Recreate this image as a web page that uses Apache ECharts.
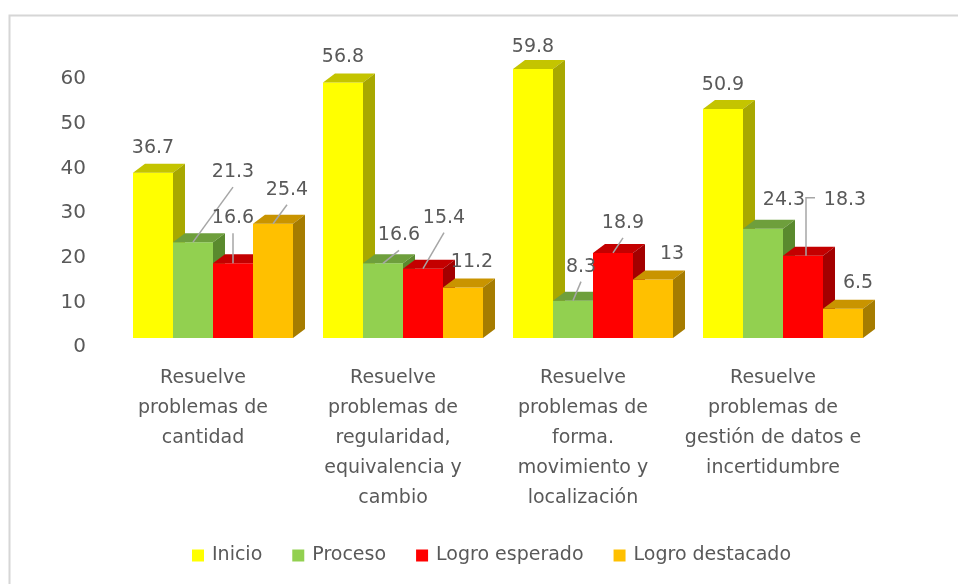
<!DOCTYPE html>
<html>
<head>
<meta charset="utf-8">
<script src="https://cdn.jsdelivr.net/npm/echarts@6/dist/echarts.min.js"></script>
<style>
  html, body { margin: 0; padding: 0; background: #fff; }
  #chart { width: 958px; height: 584px; }
</style>
</head>
<body>
<div id="chart"></div>
<script>
// datos
var categories = [
  'Resuelve\nproblemas de\ncantidad',
  'Resuelve\nproblemas de\nregularidad,\nequivalencia y\ncambio',
  'Resuelve\nproblemas de\nforma.\nmovimiento y\nlocalización',
  'Resuelve\nproblemas de\ngestión de datos e\nincertidumbre'
];
var seriesNames = ['Inicio', 'Proceso', 'Logro esperado', 'Logro destacado'];
var inicio = [36.7, 56.8, 59.8, 50.9];
var proceso = [21.3, 16.6, 8.3, 24.3];
var logroEsperado = [16.6, 15.4, 18.9, 18.3];
var logroDestacado = [25.4, 11.2, 13, 6.5];
var valueSeries = [inicio, proceso, logroEsperado, logroDestacado];

// colores de cada cara (frente, arriba, lado)
var faces = [
  { front: '#ffff00', top: '#c4c400', side: '#a8a800' },
  { front: '#92d050', top: '#6e9f3c', side: '#5a8a2e' },
  { front: '#ff0000', top: '#c40000', side: '#a30000' },
  { front: '#ffc000', top: '#c99400', side: '#a67c00' }
];

// posicion de las etiquetas respecto al centro superior de la barra
var labelOffsets = [
  [[0, -25], [0, -25], [0, -22], [0, -24]],
  [[40, -70], [16, -28], [8, -34], [21, -29]],
  [[0, -45], [21, -51], [10, -30], [42, -56]],
  [[14, -34], [9, -26], [19, -25], [15, -26]]
];
// 0 sin linea, 1 linea recta, 2 linea en codo
var leaders = [
  [0, 0, 0, 0],
  [1, 1, 1, 0],
  [1, 1, 1, 2],
  [1, 0, 0, 0]
];

var txtColor = '#595959';
var font = 'DejaVu Sans';

function makeRender(si) {
  return function (params, api) {
    var ci = api.value(0), v = api.value(1);
    var base = api.coord([ci, 0]);
    var top = api.coord([ci, v]);
    var band = api.size([1, 0])[0];
    var w = band * 40 / 190;
    var dx = w * 0.3, dy = -w * 0.225;
    var x0 = base[0] - 2 * w + si * w, x1 = x0 + w;
    var ty = top[1], by = base[1];
    var c = faces[si];
    var children = [
      { type: 'rect', shape: { x: x0, y: ty, width: w, height: by - ty }, style: { fill: c.front } },
      { type: 'polygon', shape: { points: [[x0, ty], [x1, ty], [x1 + dx, ty + dy], [x0 + dx, ty + dy]] }, style: { fill: c.top } },
      { type: 'polygon', shape: { points: [[x1, ty], [x1 + dx, ty + dy], [x1 + dx, by + dy], [x1, by]] }, style: { fill: c.side } }
    ];
    var off = labelOffsets[si][ci];
    var cx = x0 + w / 2, lx = cx + off[0], ly = ty + off[1];
    var lead = leaders[si][ci];
    if (lead === 1) {
      children.push({ type: 'line', z2: 50, shape: { x1: cx, y1: ty, x2: lx, y2: ly + 15 },
        style: { stroke: '#a6a6a6', lineWidth: 1.5 } });
    } else if (lead === 2) {
      children.push({ type: 'polyline', z2: 50, shape: { points: [[cx + 3, ty], [cx + 3, ly - 2], [lx - 30, ly - 2]] },
        style: { stroke: '#a6a6a6', fill: null, lineWidth: 1.5 } });
    }
    children.push({
      type: 'text', z2: 100, x: lx, y: ly,
      style: { text: String(v), fill: txtColor, font: '19px "' + font + '"', align: 'center', verticalAlign: 'middle' }
    });
    return { type: 'group', children: children };
  };
}

var chart = echarts.init(document.getElementById('chart'));
var series = seriesNames.map(function (name, si) {
  return {
    type: 'custom',
    name: name,
    xAxisIndex: 0,
    yAxisIndex: 0,
    itemStyle: { color: faces[si].front },
    renderItem: makeRender(si),
    encode: { x: 0, y: 1 },
    data: valueSeries[si].map(function (v, i) { return [i, v]; })
  };
});

chart.setOption({
  animation: false,
  backgroundColor: '#fff',
  graphic: [{
    type: 'rect', left: 7, top: 13, shape: { width: 1100, height: 700 },
    style: { fill: null, stroke: '#d6d6d6', lineWidth: 2 }
  }],
  grid: [
    { left: 118, right: 80, top: 68, bottom: 246 },
    { left: 108, right: 90, top: 79, bottom: 237 }
  ],
  xAxis: [
    { type: 'category', gridIndex: 0, data: categories, show: false },
    {
      type: 'category', gridIndex: 1, data: categories,
      axisLine: { show: false }, axisTick: { show: false },
      axisLabel: { interval: 0, margin: 16, color: txtColor, fontFamily: font, fontSize: 19, lineHeight: 30 }
    }
  ],
  yAxis: [
    { type: 'value', gridIndex: 0, min: 0, max: 60, interval: 10, show: false },
    {
      type: 'value', gridIndex: 1, min: 0, max: 60, interval: 10,
      splitLine: { show: false }, axisLine: { show: false }, axisTick: { show: false },
      axisLabel: { margin: 22, color: txtColor, fontFamily: font, fontSize: 20 }
    }
  ],
  legend: {
    data: seriesNames,
    left: 187,
    top: 541,
    icon: 'rect',
    itemWidth: 12,
    itemHeight: 12,
    itemGap: 30,
    textStyle: { color: txtColor, fontFamily: font, fontSize: 19, padding: [0, 0, 0, 3] }
  },
  series: series
});
</script>
</body>
</html>
